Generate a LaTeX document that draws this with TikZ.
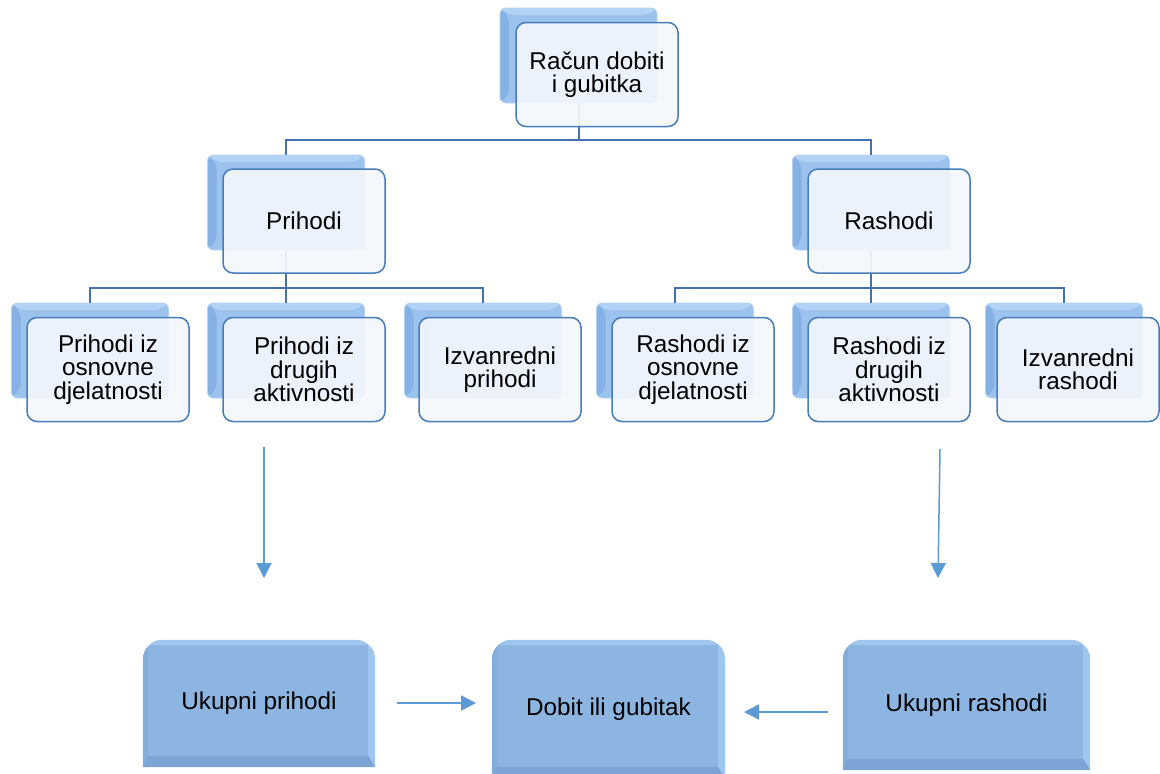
\documentclass[tikz,border=0pt]{standalone}
\usepackage{fontspec}
\setmainfont{Liberation Sans}
\usetikzlibrary{arrows.meta,backgrounds,calc}
\definecolor{connc}{RGB}{68,114,176}
\definecolor{arrowc}{RGB}{91,155,213}
\definecolor{backfill}{RGB}{155,195,238}
\definecolor{backdark}{RGB}{134,177,228}
\definecolor{backlight}{RGB}{178,211,245}
\definecolor{frontfill}{RGB}{243,246,252}
\definecolor{frontdraw}{RGB}{72,125,185}
\definecolor{botfill}{RGB}{141,181,226}
\definecolor{botleft}{RGB}{132,173,220}
\definecolor{bottop}{RGB}{160,198,238}
\definecolor{botright}{RGB}{158,198,238}
\definecolor{botbottom}{RGB}{124,164,212}
\newcommand\mybotshape[1]{%
  \begin{scope}
    \clip[rounded corners=20pt] (#1.south west) -- (#1.north west) -- (#1.north east) -- (#1.south east);
    \fill[botfill] (#1.south west) rectangle (#1.north east);
    \fill[botleft] (#1.south west) -- (#1.north west) -- ($(#1.north west)+(5,5)$) -- ($(#1.south west)+(5,-11)$) -- cycle;
    \fill[bottop] (#1.north west) -- (#1.north east) -- ($(#1.north east)+(-7,5)$) -- ($(#1.north west)+(5,5)$) -- cycle;
    \fill[botright] (#1.north east) -- (#1.south east) -- ($(#1.south east)+(-7,-11)$) -- ($(#1.north east)+(-7,5)$) -- cycle;
    \fill[botbottom] (#1.south west) -- (#1.south east) -- ($(#1.south east)+(-7,-11)$) -- ($(#1.south west)+(5,-11)$) -- cycle;
  \end{scope}}
\begin{document}
\begin{tikzpicture}[x=1pt,y=-1pt,
  font=\fontsize{24.3pt}{23.3pt}\selectfont,
  backbox/.style={minimum width=157pt, minimum height=95pt, inner sep=0pt,
    rounded corners=6pt, fill=backfill, draw=backlight, line width=0.8pt,
    path picture={
      \fill[backdark] (path picture bounding box.north west) -- ($(path picture bounding box.north west)+(9,9)$)
        -- ($(path picture bounding box.south west)+(9,-9)$) -- (path picture bounding box.south west) -- cycle;
      \fill[backlight] (path picture bounding box.north west) -- (path picture bounding box.north east)
        -- ($(path picture bounding box.north east)+(-9,7)$) -- ($(path picture bounding box.north west)+(9,7)$) -- cycle;
    }},
  frontbox/.style={minimum width=162pt, minimum height=104pt, inner sep=2pt,
    rounded corners=10pt, fill=frontfill, fill opacity=0.93, text opacity=1,
    draw=frontdraw, line width=1.5pt, align=center, text=black},
  botbox/.style={inner sep=0pt, align=center, text=black},
  connector/.style={draw=connc, line width=2pt},
  arr/.style={draw=arrowc, line width=1.5pt, -{Triangle[length=15pt,width=15pt]}}
]
\useasboundingbox (0,0) rectangle (1160,774);
\clip (0,0) rectangle (1160,774);

% back boxes
\node[backbox] (topB) at (578.5,55.5) {};
\node[backbox] (priB) at (286,202.5) {};
\node[backbox] (rasB) at (871,202.5) {};
\node[backbox] (c1B) at (90,350.5) {};
\node[backbox] (c2B) at (286,350.5) {};
\node[backbox] (c3B) at (483,350.5) {};
\node[backbox] (c4B) at (675,350.5) {};
\node[backbox] (c5B) at (871,350.5) {};
\node[backbox] (c6B) at (1064,350.5) {};

% connectors
\coordinate (bus0) at (578.5,140);
\draw[connector] (topB.south) -- (bus0);
\draw[connector] (priB.north) |- (bus0);
\draw[connector] (rasB.north) |- (bus0);
\coordinate (busL) at (286,288);
\draw[connector] (priB.south) -- (busL);
\draw[connector] (c1B.north) |- (busL);
\draw[connector] (c2B.north) -- (busL);
\draw[connector] (c3B.north) |- (busL);
\coordinate (busR) at (871,288);
\draw[connector] (rasB.south) -- (busR);
\draw[connector] (c4B.north) |- (busR);
\draw[connector] (c5B.north) -- (busR);
\draw[connector] (c6B.north) |- (busR);

% front boxes
\node[frontbox] (top) at (597,74.5) {Račun dobiti\\i gubitka};
\node[frontbox] (pri) at (304,221) {Prihodi};
\node[frontbox] (ras) at (889,221) {Rashodi};
\node[frontbox] (c1) at (108,369.5) {Prihodi iz\\osnovne\\djelatnosti};
\node[frontbox] (c2) at (304,369.5) {Prihodi iz\\drugih\\aktivnosti};
\node[frontbox] (c3) at (500,369.5) {Izvanredni\\prihodi};
\node[frontbox] (c4) at (693,369.5) {Rashodi iz\\osnovne\\djelatnosti};
\node[frontbox] (c5) at (889,369.5) {Rashodi iz\\drugih\\aktivnosti};
\node[frontbox] (c6) at (1078,369.5) {Izvanredni\\rashodi};

% bottom boxes
\node[botbox, minimum width=232pt, minimum height=127pt] (up) at (259,703.5) {Ukupni prihodi};
\node[botbox, minimum width=233pt, minimum height=138pt] (dg) at (608.5,709) {Dobit ili gubitak};
\node[botbox, minimum width=247pt, minimum height=130pt] (ur) at (966.5,705) {Ukupni rashodi};
\begin{scope}[on background layer]
  \mybotshape{up}
  \mybotshape{dg}
  \mybotshape{ur}
\end{scope}

% arrows
\coordinate (a1s) at (264,447); \coordinate (a1e) at (264,578);
\coordinate (a2s) at (940,449); \coordinate (a2e) at (938,578);
\coordinate (a3s) at (397,703); \coordinate (a3e) at (476,703);
\coordinate (a4s) at (828,712); \coordinate (a4e) at (744,712);
\draw[arr] (a1s) -- (a1e);
\draw[arr] (a2s) -- (a2e);
\draw[arr] (a3s) -- (a3e);
\draw[arr] (a4s) -- (a4e);
\end{tikzpicture}
\end{document}
